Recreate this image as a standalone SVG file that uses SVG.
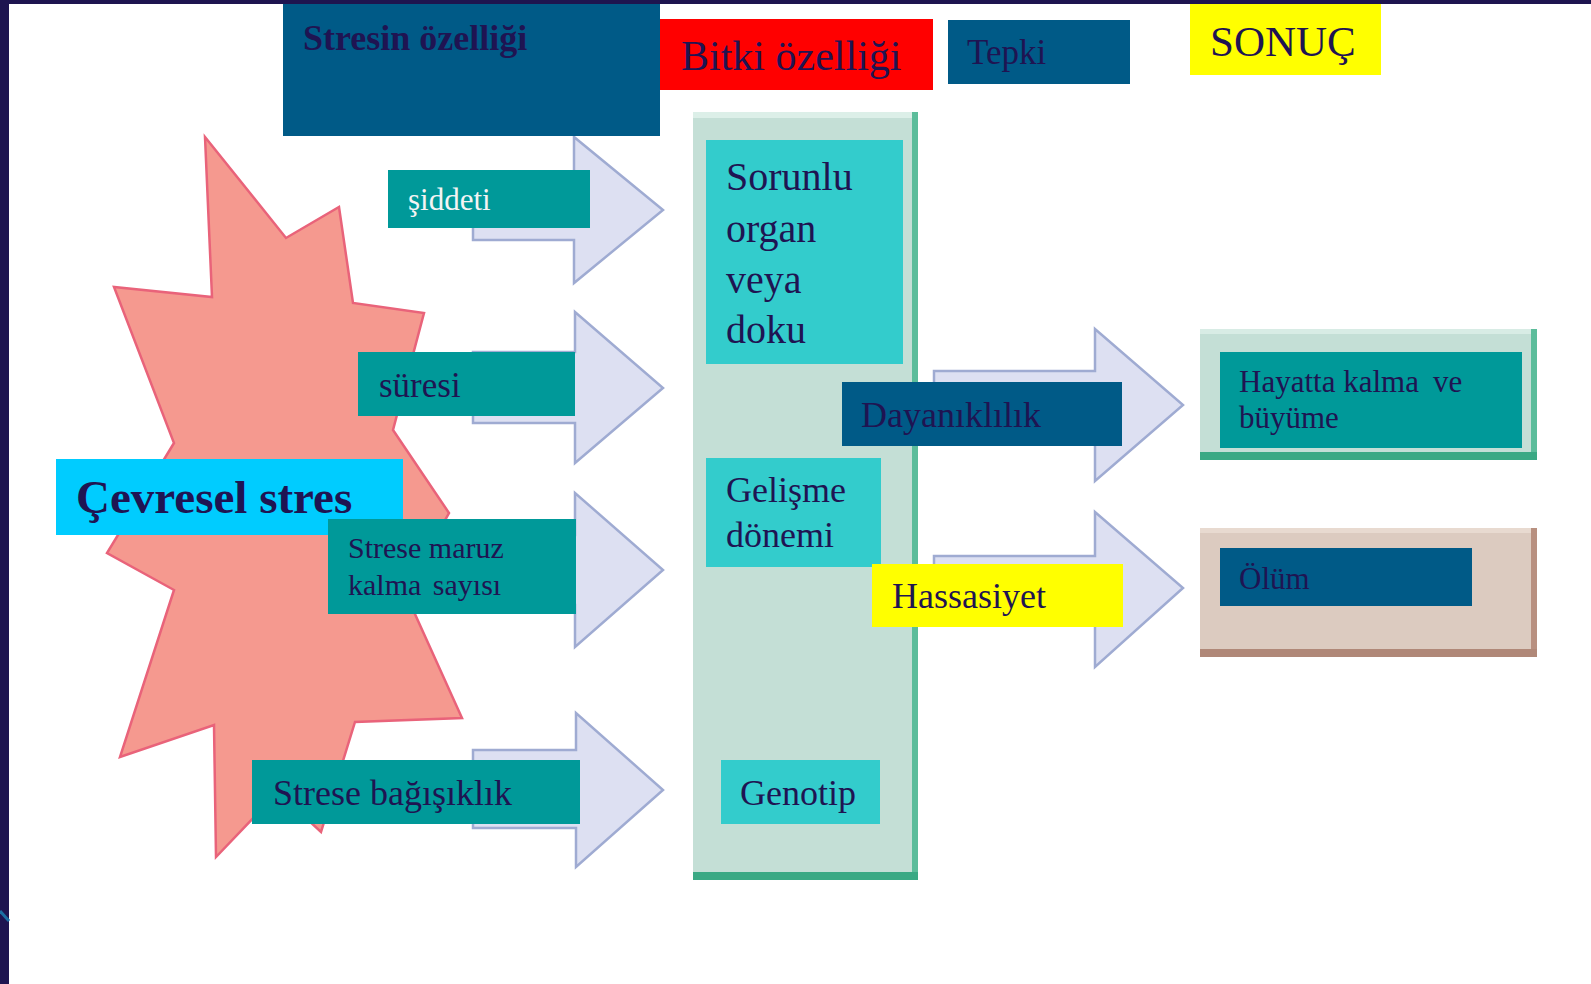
<svg xmlns="http://www.w3.org/2000/svg" width="1591" height="984" viewBox="0 0 1591 984">
<style>
.t{font-family:"Liberation Serif","Times New Roman",serif;fill:#1f1452}
.b{font-weight:bold}
.arrow{fill:#dde0f2;stroke:#9fabd2;stroke-width:2.5;stroke-linejoin:miter}
.dblue{fill:#005a87}
.teal{fill:#009999}
.cyan{fill:#33cccc}
.yel{fill:#ffff00}
</style>
<rect x="0" y="0" width="1591" height="984" fill="#ffffff"/>
<rect x="0" y="0" width="1591" height="4" fill="#1e1550"/>
<rect x="0" y="0" width="9" height="984" fill="#1e1550"/>
<line x1="0" y1="911" x2="9" y2="921" stroke="#1b6fa3" stroke-width="3"/>

<g id="star">
<polygon points="205,137 286,238 339,207 353,303 424,313 393,430 449,513 405,592 462,718 355,722 321,832 278,792 216,857 214,725 120,757 174,590 107,553 174,443 114,287 212,297" fill="#f5998f" stroke="#e9637a" stroke-width="2.5"/>
</g>

<g id="connectors">
<polygon class="arrow" points="473,176 574,176 574,137 663,210 574,283 574,240 473,240"/>
<polygon class="arrow" points="473,352 575,352 575,312 663,388 575,463 575,423 473,423"/>
<polygon class="arrow" points="473,535 575,535 575,493 663,570 575,647 575,605 473,605"/>
<polygon class="arrow" points="473,750 576,750 576,713 663,790 576,867 576,828 473,828"/>
<polygon class="arrow" points="934,371 1095,371 1095,329 1183,405 1095,481 1095,439 934,439"/>
<polygon class="arrow" points="934,556 1095,556 1095,512 1183,588 1095,667 1095,620 934,620"/>
</g>

<g id="stresin-ozelligi">
<rect class="dblue" x="283" y="4" width="377" height="132"/>
<text class="t b" x="303" y="50" font-size="36">Stresin özelliği</text>
</g>

<g id="bitki-ozelligi">
<rect x="660" y="19" width="273" height="71" fill="#ff0000"/>
<text class="t" x="681" y="70" font-size="42">Bitki özelliği</text>
</g>

<g id="tepki">
<rect class="dblue" x="948" y="20" width="182" height="64"/>
<text class="t" x="967" y="64" font-size="35">Tepki</text>
</g>

<g id="sonuc">
<rect class="yel" x="1190" y="4" width="191" height="71"/>
<text class="t" x="1210" y="56" font-size="43">SONUÇ</text>
</g>

<g id="bitki-panel">
<rect x="693" y="112" width="225" height="768" fill="#c4dfd6"/>
<rect x="693" y="112" width="225" height="6" fill="#dcefe8"/>
<rect x="912" y="112" width="6" height="768" fill="#5cbd9b"/>
<rect x="693" y="872" width="225" height="8" fill="#3aa984"/>
</g>

<g id="sorunlu-organ">
<rect class="cyan" x="706" y="140" width="197" height="224"/>
<text class="t" font-size="40"><tspan x="726" y="190">Sorunlu</tspan><tspan x="726" y="242">organ</tspan><tspan x="726" y="293">veya</tspan><tspan x="726" y="343">doku</tspan></text>
</g>

<g id="gelisme-donemi">
<rect class="cyan" x="706" y="458" width="175" height="109"/>
<text class="t" font-size="36"><tspan x="726" y="502">Gelişme</tspan><tspan x="726" y="547">dönemi</tspan></text>
</g>

<g id="genotip">
<rect class="cyan" x="721" y="760" width="159" height="64"/>
<text class="t" x="740" y="805" font-size="36">Genotip</text>
</g>

<g id="cevresel-stres">
<rect x="56" y="459" width="347" height="76" fill="#00ccff"/>
<text class="t b" x="76" y="513" font-size="47">Çevresel stres</text>
</g>

<g id="siddeti">
<rect class="teal" x="388" y="170" width="202" height="58"/>
<text class="t" x="408" y="210" font-size="31" style="fill:#f4f4f4">şiddeti</text>
</g>

<g id="suresi">
<rect class="teal" x="358" y="352" width="217" height="64"/>
<text class="t" x="379" y="397" font-size="35">süresi</text>
</g>

<g id="strese-maruz">
<rect class="teal" x="328" y="519" width="248" height="95"/>
<text class="t" font-size="30"><tspan x="348" y="558">Strese maruz</tspan><tspan x="348" y="595" word-spacing="4">kalma sayısı</tspan></text>
</g>

<g id="strese-bagisiklik">
<rect class="teal" x="252" y="760" width="328" height="64"/>
<text class="t" x="273" y="805" font-size="36">Strese bağışıklık</text>
</g>

<g id="dayaniklilik">
<rect class="dblue" x="842" y="382" width="280" height="64"/>
<text class="t" x="861" y="427" font-size="36">Dayanıklılık</text>
</g>

<g id="hassasiyet">
<rect class="yel" x="872" y="564" width="251" height="63"/>
<text class="t" x="892" y="608" font-size="36">Hassasiyet</text>
</g>

<g id="hayatta-kalma">
<rect x="1200" y="329" width="337" height="131" fill="#c4dfd6"/>
<rect x="1200" y="329" width="337" height="5" fill="#d8ece5"/>
<rect x="1531" y="329" width="6" height="131" fill="#5cbd9b"/>
<rect x="1200" y="452" width="337" height="8" fill="#3aa984"/>
<rect class="teal" x="1220" y="352" width="302" height="96"/>
<text class="t" font-size="31"><tspan x="1239" y="392">Hayatta kalma</tspan><tspan dx="14">ve</tspan><tspan x="1239" y="428">büyüme</tspan></text>
</g>

<g id="olum">
<rect x="1200" y="528" width="337" height="129" fill="#dccbc0"/>
<rect x="1200" y="528" width="337" height="5" fill="#e8dad0"/>
<rect x="1531" y="528" width="6" height="129" fill="#b89080"/>
<rect x="1200" y="649" width="337" height="8" fill="#b08878"/>
<rect class="dblue" x="1220" y="548" width="252" height="58"/>
<text class="t" x="1239" y="589" font-size="31">Ölüm</text>
</g>
</svg>
